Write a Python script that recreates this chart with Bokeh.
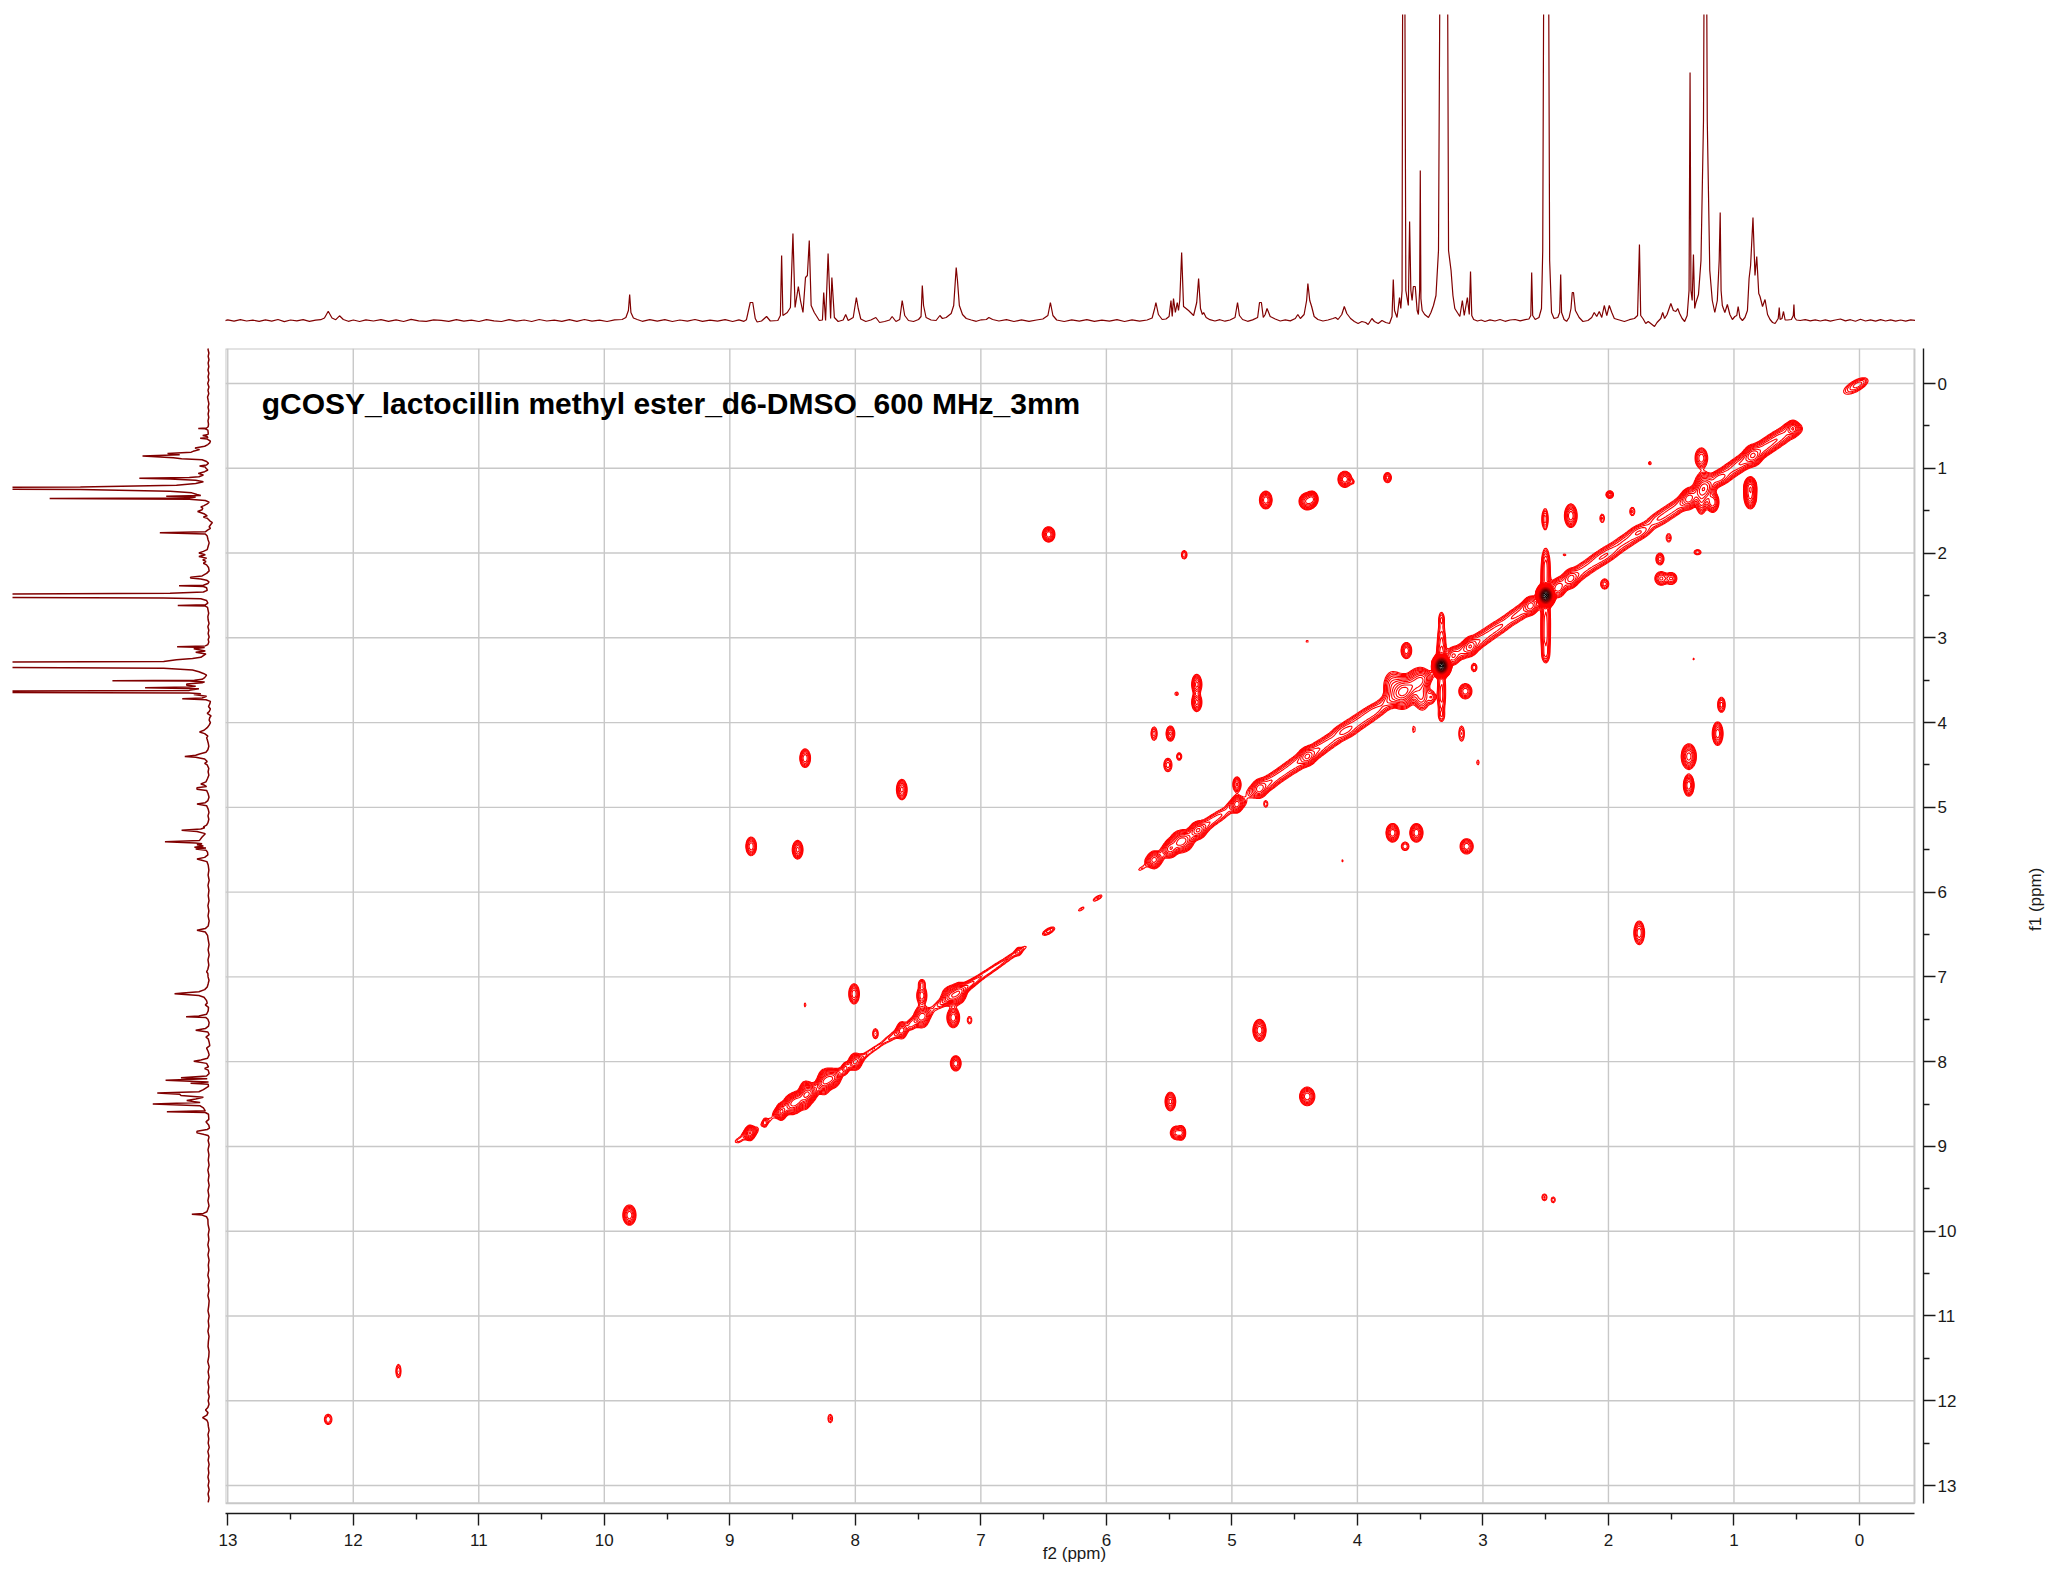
import numpy as np
from bokeh.plotting import figure
from bokeh.layouts import column, row
from bokeh.models import Range1d, FixedTicker, Label, LinearAxis, Spacer
from bokeh.embed import file_html
from bokeh.resources import INLINE

TITLE = "gCOSY_lactocillin methyl ester_d6-DMSO_600 MHz_3mm"
X_TICKS = list(range(0, 14))
Y_TICKS = list(range(0, 14))
X_MINOR = [i + 0.5 for i in range(0, 13)]
Y_MINOR = [i + 0.5 for i in range(0, 13)]

# 1D projection: chemical shift and height above the baseline
spec_ppm = [
 13.20,13.15,13.10,13.05,13.00,12.95,12.90,12.85,12.80,12.75,
 12.70,12.65,12.60,12.55,12.50,12.45,12.40,12.35,12.30,12.26,
 12.23,12.20,12.17,12.14,12.11,12.08,12.04,12.00,11.95,11.90,
 11.84,11.78,11.72,11.66,11.60,11.54,11.48,11.42,11.36,11.30,
 11.24,11.18,11.12,11.06,11.00,10.94,10.88,10.82,10.76,10.70,
 10.64,10.58,10.52,10.46,10.40,10.34,10.28,10.22,10.16,10.10,
 10.04,9.98,9.92,9.86,9.83,9.81,9.80,9.79,9.77,9.74,
 9.70,9.64,9.58,9.52,9.46,9.40,9.34,9.28,9.22,9.16,
 9.10,9.04,8.98,8.93,8.89,8.87,8.86,8.84,8.82,8.80,
 8.785,8.75,8.71,8.68,8.62,8.60,8.59,8.58,8.545,8.52,
 8.50,8.483,8.457,8.44,8.42,8.40,8.385,8.37,8.355,8.33,
 8.29,8.265,8.255,8.24,8.22,8.20,8.19,8.17,8.14,8.10,
 8.08,8.06,8.02,7.995,7.98,7.96,7.92,7.88,7.84,7.81,
 7.77,7.73,7.71,7.68,7.65,7.63,7.61,7.58,7.54,7.50,
 7.48,7.47,7.46,7.44,7.40,7.36,7.33,7.31,7.28,7.24,
 7.22,7.20,7.19,7.175,7.15,7.12,7.08,7.04,7.00,6.96,
 6.94,6.91,6.86,6.80,6.74,6.68,6.62,6.56,6.51,6.47,
 6.45,6.43,6.40,6.34,6.28,6.22,6.16,6.10,6.04,5.98,
 5.92,5.86,5.80,5.74,5.68,5.64,5.62,5.61,5.59,5.56,
 5.53,5.505,5.49,5.48,5.47,5.455,5.44,5.43,5.42,5.405,
 5.39,5.35,5.31,5.285,5.27,5.255,5.24,5.23,5.21,5.18,
 5.14,5.10,5.06,5.02,4.98,4.96,4.945,4.92,4.88,4.84,
 4.80,4.785,4.77,4.755,4.74,4.725,4.70,4.66,4.62,4.58,
 4.54,4.50,4.48,4.46,4.43,4.41,4.40,4.385,4.37,4.35,
 4.32,4.28,4.24,4.20,4.18,4.16,4.13,4.11,4.09,4.06,
 4.03,4.00,3.97,3.94,3.92,3.89,3.87,3.84,3.81,3.78,
 3.75,3.73,3.72,3.71,3.69,3.67,3.66,3.65,3.64,3.63,
 3.62,3.60,3.59,3.58,3.57,3.56,3.545,3.53,3.52,3.51,
 3.505,3.50,3.49,3.47,3.44,3.42,3.40,3.38,3.36,3.33,
 3.30,3.28,3.26,3.245,3.23,3.21,3.19,3.17,3.155,3.13,
 3.115,3.105,3.095,3.08,3.05,3.02,2.99,2.95,2.91,2.87,
 2.83,2.79,2.75,2.71,2.67,2.64,2.625,2.618,2.61,2.59,
 2.56,2.54,2.53,2.52,2.50,2.485,2.475,2.46,2.44,2.41,
 2.395,2.387,2.38,2.36,2.34,2.32,2.305,2.295,2.285,2.27,
 2.24,2.21,2.17,2.14,2.12,2.10,2.08,2.06,2.04,2.02,
 2.00,1.98,1.96,1.92,1.88,1.84,1.80,1.775,1.76,1.75,
 1.73,1.71,1.69,1.67,1.64,1.62,1.59,1.575,1.56,1.54,
 1.51,1.49,1.47,1.455,1.44,1.42,1.40,1.38,1.365,1.357,
 1.35,1.34,1.33,1.32,1.31,1.29,1.27,1.25,1.24,1.23,
 1.22,1.20,1.18,1.16,1.14,1.125,1.117,1.11,1.10,1.08,
 1.06,1.04,1.02,1.00,0.985,0.974,0.96,0.94,0.92,0.90,
 0.887,0.875,0.856,0.84,0.826,0.81,0.80,0.78,0.76,0.74,
 0.72,0.70,0.68,0.655,0.647,0.64,0.625,0.613,0.60,0.58,
 0.55,0.535,0.53,0.525,0.51,0.48,0.44,0.40,0.36,0.32,
 0.28,0.24,0.20,0.16,0.12,0.08,0.04,0.00,-0.04,-0.08,
 -0.12,-0.16,-0.20,-0.24,-0.28,-0.32,-0.36,-0.40,-0.44,-0.50,
]
spec_int = [
 0.5,-0.8,0.7,-1.0,0.6,-0.7,0.9,-0.5,0.4,-0.9,
 0.6,-0.6,1.0,-1.1,0.5,-0.4,0.8,-0.9,0.3,0.8,
 2.5,9.3,2.5,0.8,4.7,1.0,-0.8,0.5,-1.0,0.7,
 -0.5,0.9,-0.9,0.6,-1.0,1.1,-0.4,-0.9,0.7,0.2,
 -0.8,0.9,-0.6,0.4,-1.0,0.8,-0.3,-1.0,0.9,-0.7,
 0.5,-1.0,1.0,-0.5,0.3,-0.9,0.8,-0.8,1.0,-0.6,
 0.4,-1.0,0.7,1.0,3.0,10.0,26.0,8.0,2.5,1.0,
 -0.8,0.9,-0.6,0.8,-1.0,0.5,-0.7,1.0,-0.9,0.4,
 -0.7,0.8,-1.0,0.6,-0.8,0.8,6.6,18.0,18.0,2.0,
 -1.5,-0.5,4.0,-0.5,0.0,5.0,65.0,5.0,8.0,13.0,
 87.0,13.0,34.0,20.0,8.0,43.0,45.0,80.0,15.0,8.0,
 0.0,0.5,28.0,0.0,67.0,2.0,43.0,3.0,-1.0,0.5,
 6.0,0.0,3.0,23.0,12.0,1.5,-1.0,0.5,3.0,-2.0,
 -1.0,0.5,4.0,-1.0,1.0,20.0,5.0,0.0,-1.0,1.0,
 4.0,35.0,15.0,3.0,0.5,0.0,5.0,2.0,3.0,7.0,
 15.0,53.0,40.0,15.0,6.0,2.0,0.5,-0.8,0.7,1.0,
 3.0,1.0,-0.5,0.8,-1.0,0.6,-0.9,0.5,1.5,5.0,
 18.0,5.0,0.5,-1.0,0.7,-0.6,0.9,-0.8,0.4,-0.7,
 0.8,-1.0,0.6,-0.6,0.5,2.5,12.0,18.0,6.0,1.0,
 1.5,4.0,20.0,4.0,22.0,8.0,18.0,10.0,20.0,68.0,
 14.0,10.0,5.0,18.0,42.0,12.0,6.0,8.0,3.0,0.8,
 -0.5,0.8,-0.7,0.5,3.0,18.0,5.0,1.0,-0.8,0.6,
 3.0,18.0,18.0,3.0,6.0,12.0,4.0,1.5,-0.5,0.6,
 -0.4,2.0,6.0,2.0,6.0,20.0,37.0,20.0,14.0,4.0,
 1.0,-0.5,0.5,2.0,3.0,1.0,6.0,14.0,7.0,2.0,
 -1.0,-3.0,-1.0,-2.0,-4.0,2.0,-1.0,-3.0,0.0,-2.0,
 -3.0,4.0,41.0,10.0,3.0,23.0,12.0,30.0,700.0,420.0,
 30.0,15.0,99.0,30.0,20.0,34.0,34.0,10.0,6.0,30.0,
 150.0,22.0,10.0,6.0,3.0,8.0,15.0,25.0,70.0,800.0,
 800.0,70.0,50.0,25.0,12.0,8.0,4.0,20.0,5.0,23.0,
 6.0,49.0,5.0,1.0,-0.5,0.5,-1.0,0.6,-0.5,1.0,
 -0.8,0.5,1.0,-0.3,0.8,1.5,5.0,48.0,5.0,1.0,
 3.0,12.0,70.0,420.0,800.0,420.0,60.0,8.0,2.0,3.0,
 8.0,46.0,8.0,1.0,-0.8,3.0,12.0,28.0,28.0,10.0,
 3.0,-1.0,0.0,3.0,8.0,4.0,9.0,3.0,15.0,5.0,
 15.0,8.0,2.0,0.5,-1.0,0.8,2.0,5.0,76.0,5.0,
 1.5,-3.0,-1.0,-3.0,-6.0,-2.0,2.0,8.0,2.0,6.0,
 17.0,10.0,9.0,12.0,7.0,2.0,-1.0,5.0,30.0,248.0,
 30.0,20.0,66.0,12.0,18.0,26.0,60.0,200.0,500.0,500.0,
 200.0,50.0,20.0,8.0,20.0,60.0,108.0,30.0,15.0,8.0,
 16.0,6.0,1.0,4.0,5.0,14.0,3.0,0.0,3.0,10.0,
 42.0,55.0,103.0,45.0,64.0,27.0,24.0,14.0,21.0,6.0,
 1.0,-2.0,-3.0,2.0,13.0,1.0,2.0,9.0,0.5,0.5,
 1.0,5.0,16.0,3.0,0.5,0.0,0.8,-0.4,0.6,-0.5,
 0.7,-0.6,0.5,1.5,-0.4,0.8,-0.7,1.2,-0.5,0.7,
 -0.6,0.8,-0.5,0.6,-0.7,0.5,-0.6,0.7,0.0,0.0,
]

# correlation peaks: f2, f1, half-extent in each direction, relative height
peak_f2 = [4.10,4.40,4.36,4.73,3.76,4.04,1.67,1.26,1.26,0.87,0.87,2.30,2.51,1.99,2.05,1.81,1.52,1.59,1.29,1.58,1.50,2.03,2.35,
           6.46,5.38,4.40,3.61,3.07,3.14,3.41,5.28,5.28,5.44,5.62,5.49,5.42,5.51,3.55,3.17,3.04,1.10,1.13,1.36,1.36,1.32,
           4.96,4.73,3.72,3.53,3.62,3.13,4.12,7.63,8.40,8.83,8.46,1.755,
           7.47,7.47,8.01,8.40,7.09,7.22,7.84,7.20,4.78,5.49,4.40,5.44,5.40,9.80,12.20,11.64,8.20,2.51,2.44,
           3.72,3.62,3.56,3.50,3.48,1.17,3.24,2.40,
           8.84,8.72,8.59,8.50,8.46,8.40,8.37,8.25,8.20,8.08,8.00,7.63,7.55,7.47,7.22,7.17,6.70,
           0.53,0.85,1.24,1.36,2.62,2.30,3.10,3.64,3.50,4.40,4.78,4.96,5.27,5.40,5.49,5.62]
peak_f1 = [1.13,1.39,1.36,1.375,1.11,1.16,0.94,0.88,1.40,1.22,1.33,1.56,1.60,1.31,1.59,1.51,1.82,2.07,1.99,2.30,2.30,2.365,2.02,
           1.78,2.02,3.04,3.15,3.35,3.63,3.70,3.55,3.76,3.66,4.13,4.13,4.40,4.50,4.08,4.13,4.47,3.79,4.13,4.40,4.74,3.25,
           4.73,4.96,5.30,5.30,5.46,5.46,5.63,4.79,4.42,5.46,5.50,6.48,
           7.08,7.22,7.20,7.33,7.51,7.48,7.67,8.02,7.63,8.47,8.41,8.84,8.84,9.81,12.22,11.65,12.21,9.60,9.63,
           3.58,3.62,3.55,3.68,3.70,1.40,3.22,2.42,
           8.84,8.72,8.59,8.50,8.46,8.40,8.37,8.25,8.20,8.08,8.00,7.63,7.56,7.47,7.22,7.17,6.70,
           0.53,0.85,1.24,1.36,2.62,2.30,3.10,3.64,3.50,4.40,4.78,4.96,5.27,5.40,5.49,5.62]
peak_rx = [.055,.065,.045,.05,.03,.012,.012,.05,.04,.05,.05,.05,.018,.03,.018,.02,.02,.032,.028,.05,.045,.032,.012,
           .05,.022,.01,.042,.022,.052,.03,.04,.04,.014,.024,.034,.02,.032,.01,.022,.01,.03,.042,.06,.042,.008,
           .032,.016,.052,.052,.03,.052,.008,.042,.042,.042,.042,.042,
           .025,.04,.042,.008,.018,.05,.022,.042,.052,.042,.06,.05,.03,.052,.03,.02,.018,.02,.016,
           .07,.09,.05,.05,.05,.05,.05,.05,
           .04,.015,.04,.07,.05,.05,.06,.05,.08,.02,.05,.04,.03,.06,.09,.05,.02,
           .04,.07,.08,.06,.05,.05,.05,.09,.07,.06,.05,.04,.06,.09,.05,.05]
peak_ry = [.095,.10,.09,.105,.06,.02,.02,.12,.14,.12,.15,.14,.09,.045,.05,.05,.05,.07,.03,.08,.07,.06,.012,
           .09,.05,.012,.095,.05,.09,.07,.12,.11,.022,.08,.09,.045,.08,.04,.09,.03,.09,.14,.15,.13,.012,
           .09,.04,.11,.11,.05,.09,.012,.12,.11,.11,.11,.14,
           .05,.11,.12,.025,.045,.12,.06,.09,.13,.11,.11,.08,.08,.12,.06,.08,.05,.04,.035,
           .18,.14,.14,.12,.14,.12,.10,.10,
           .09,.05,.10,.12,.10,.16,.12,.14,.12,.06,.10,.10,.05,.13,.12,.10,.04,
           .09,.12,.20,.12,.10,.10,.10,.20,.15,.10,.10,.10,.10,.13,.10,.10]
peak_amp = [8,12,10,8,4,1.6,1.6,6,6,12,12,8,2.5,4,2,2,2,4,2.5,5,5,3,1.5,
            8,2.5,1.4,6,2.5,6,3,7,7,1.6,3,5,2.5,3,1.5,2.5,1.5,4,8,10,8,1.3,
            5,1.8,8,8,2.5,6,1.3,7,6,6,7,6,
            2.5,6,6,1.3,1.8,8,2.5,6,8,7,8,7,5,8,2.5,2.5,2,2,1.8,
            5,5,4,4,3,8,5,5,
            8,2,8,9,6,8,9,6,10,3,6,5,2,7,10,6,2,
            6,10,14,8,6,5,6,12,7,7,6,6,7,9,6,6]

# the two solvent lines and the stripes that run through them
stripe_f2 = [2.50,2.50,2.50,2.50,2.50,2.50,2.50,3.33,3.33,3.33,3.33,3.33,3.33,3.33]
stripe_f1 = [1.60,2.10,2.30,2.50,2.80,3.05,3.20,2.78,3.00,3.20,3.33,3.55,3.75,3.92]
stripe_rx = [.016,.022,.038,.08,.038,.03,.025,.02,.03,.038,.08,.03,.025,.02]
stripe_ry = [.10,.12,.30,.15,.32,.16,.08,.08,.16,.16,.15,.20,.14,.06]
stripe_amp = [2,2.5,5,2500,5,3,2.5,2.5,3,5,2500,3,2.5,2]

# ridge along the diagonal: shift, half-length, half-width, relative height
diag_ppm = [0.00,0.06,0.53,0.60,0.68,0.76,0.85,0.95,1.05,1.12,1.24,1.36,1.48,1.60,1.75,1.86,1.99,2.08,2.20,2.30,2.39,2.62,2.74,
            2.88,3.00,3.10,3.17,3.50,3.58,3.64,3.72,3.85,3.95,4.05,4.11,4.22,4.32,4.40,4.50,4.60,4.70,4.78,4.96,5.08,5.18,5.27,
            5.40,5.49,5.62,5.72,6.07,6.20,6.46,
            6.70,6.85,7.00,7.10,7.20,7.30,7.47,7.63,7.72,7.84,7.93,8.00,8.08,8.20,8.25,8.37,8.41,8.46,8.50,8.59,8.71,8.84,8.93]
diag_len = [.05,.05,.04,.08,.08,.08,.10,.08,.08,.06,.10,.08,.08,.08,.07,.08,.08,.08,.08,.07,.06,.08,.08,
            .08,.08,.08,.06,.08,.06,.06,.07,.08,.08,.08,.06,.07,.07,.08,.07,.07,.07,.08,.05,.07,.07,.07,
            .08,.06,.05,.02,.03,.02,.04,
            .05,.08,.08,.06,.09,.07,.06,.05,.05,.03,.04,.05,.04,.08,.05,.07,.05,.05,.07,.05,.03,.05,.02]
diag_wid = [.045,.045,.07,.07,.07,.07,.075,.07,.07,.07,.075,.07,.065,.065,.07,.065,.065,.065,.065,.07,.065,.07,.065,
            .065,.065,.07,.065,.07,.07,.07,.07,.065,.065,.065,.065,.065,.065,.07,.065,.06,.06,.07,.06,.04,.04,.06,
            .07,.06,.06,.012,.018,.012,.028,
            .016,.022,.025,.035,.05,.035,.05,.035,.025,.012,.018,.04,.03,.06,.05,.06,.05,.05,.06,.05,.018,.045,.02]
diag_amp = [3,2,4,3.5,3.5,4,5,4,3.5,5,6,5,3,3,4,3,3,3,3,4,3,4,3,
            3,3,4,3,5,4,6,4,3,2.5,2.5,3,3,3,4,3,3,3,4,4,1.8,2,4,
            5,4,4,1.4,2,1.5,3,
            1.6,1.7,1.8,2.5,5,2,4,2.2,1.7,1.4,1.5,3,2,6,4,6,4,4,5,4,1.6,4,1.5]

contour_levels = [1,1.35,1.8,2.45,3.3,4.5,6,8.2,11,15,20,27,36,49,66,
                  89,120,162,218,295,398,537,725,980,1320,1780,2250]
contour_colors = ["#ff0000"]*15 + ["#f00000","#e00000","#d00000","#c00000","#a80000","#900000",
                                   "#780000","#600000","#480000","#300000","#180000","#000000"]

GRID_COLOR = "#c8c8c8"
INK = "#1a1a1a"
SPEC = "#800000"
FONT = "Liberation Sans"

# frame limits of the main panel
X_LEFT, X_FRAME_RIGHT, X_AXIS = 13.018, -0.438, -0.51
Y_TOP, Y_FRAME_BOTTOM, Y_AXIS = -0.413, 13.21, 13.33

# contour field
f2 = np.arange(-0.25, 13.0, 0.012)
f1 = np.arange(-0.25, 13.1, 0.016)
z = np.zeros((f1.size, f2.size))


def add(cx, cy, su, sv, amp, rotate):
    reach = 4.2 * max(su, sv)
    i0, i1 = np.searchsorted(f2, [cx - reach, cx + reach])
    j0, j1 = np.searchsorted(f1, [cy - reach, cy + reach])
    xx, yy = np.meshgrid(f2[i0:i1] - cx, f1[j0:j1] - cy)
    if rotate:
        u, v = (xx + yy) / np.sqrt(2), (xx - yy) / np.sqrt(2)
    else:
        u, v = xx, yy
    z[j0:j1, i0:i1] += amp * np.exp(-0.5 * ((u / su) ** 2 + (v / sv) ** 2))


for a, b, rx, ry, amp in zip(peak_f2 + stripe_f2, peak_f1 + stripe_f1, peak_rx + stripe_rx,
                             peak_ry + stripe_ry, peak_amp + stripe_amp):
    k = np.sqrt(2 * np.log(amp))
    add(a, b, rx / k, ry / k, amp, False)
for a, ln, wd, amp in zip(diag_ppm, diag_len, diag_wid, diag_amp):
    k = np.sqrt(2 * np.log(amp))
    add(a, a, ln / k * 1.6, wd / k, amp, True)

# main panel: its frame runs out to the offset axes, the grey box is drawn inside it
p = figure(width=1839, height=1230, output_backend="svg", toolbar_location=None,
           x_range=Range1d(X_LEFT, X_AXIS), y_range=Range1d(Y_AXIS, Y_TOP),
           x_axis_location=None, y_axis_location=None,
           min_border_left=7, min_border_right=133, min_border_top=10, min_border_bottom=55)
p.grid.visible = False
p.outline_line_color = None

p.segment(x0=X_TICKS, x1=X_TICKS, y0=[Y_TOP] * 14, y1=[Y_FRAME_BOTTOM] * 14,
          line_color=GRID_COLOR, line_width=1.4)
p.segment(x0=[X_LEFT] * 14, x1=[X_FRAME_RIGHT] * 14, y0=Y_TICKS, y1=Y_TICKS,
          line_color=GRID_COLOR, line_width=1.4)
p.quad(left=[X_LEFT], right=[X_FRAME_RIGHT], top=[Y_TOP], bottom=[Y_FRAME_BOTTOM],
       fill_color=None, line_color=GRID_COLOR, line_width=2)

p.contour(f2, f1, z, contour_levels, line_color=contour_colors, line_width=1.1)

xax = LinearAxis(ticker=FixedTicker(ticks=X_TICKS, minor_ticks=X_MINOR), bounds=(X_FRAME_RIGHT, X_LEFT),
                 axis_label="f2 (ppm)", axis_label_standoff=-5)
yax = LinearAxis(ticker=FixedTicker(ticks=Y_TICKS, minor_ticks=Y_MINOR), bounds=(Y_TOP, Y_FRAME_BOTTOM),
                 axis_label="f1 (ppm)", axis_label_standoff=76)
for ax, standoff in ((xax, 8), (yax, 2)):
    ax.major_tick_in = 0
    ax.major_tick_out = 12
    ax.minor_tick_in = 0
    ax.minor_tick_out = 6
    ax.axis_line_color = INK
    ax.major_tick_line_color = INK
    ax.minor_tick_line_color = INK
    ax.axis_line_width = 1.4
    ax.major_tick_line_width = 1.4
    ax.minor_tick_line_width = 1.4
    ax.major_label_text_font = FONT
    ax.major_label_text_font_size = "17px"
    ax.major_label_text_color = INK
    ax.major_label_standoff = standoff
    ax.axis_label_text_font = FONT
    ax.axis_label_text_font_size = "17px"
    ax.axis_label_text_font_style = "normal"
    ax.axis_label_text_color = INK
yax.major_label_orientation = "horizontal"
yax.axis_label_orientation = np.pi / 2
p.add_layout(xax, "below")
p.add_layout(yax, "right")

p.add_layout(Label(x=12.73, y=0.24, text=TITLE, text_font=FONT, text_font_style="bold",
                   text_font_size="30px", text_color="#000000", text_baseline="middle"))

# horizontal projection above the panel
top = figure(width=1690, height=338, output_backend="svg", toolbar_location=None,
             x_range=Range1d(X_LEFT, X_FRAME_RIGHT), y_range=Range1d(-18, 306),
             x_axis_type=None, y_axis_type=None,
             min_border_left=0, min_border_right=0, min_border_top=14, min_border_bottom=0)
top.grid.visible = False
top.outline_line_color = None
top.line(spec_ppm, spec_int, line_color=SPEC, line_width=1.2)

# vertical projection left of the panel
left = figure(width=218, height=1230, output_backend="svg", toolbar_location=None,
              x_range=Range1d(306, -15.6), y_range=Range1d(Y_AXIS, Y_TOP),
              x_axis_type=None, y_axis_type=None,
              min_border_left=12, min_border_right=0, min_border_top=10, min_border_bottom=55)
left.grid.visible = False
left.outline_line_color = None
left.line(spec_int, spec_ppm, line_color=SPEC, line_width=1.5)

page = column(row(Spacer(width=225, height=338), top, spacing=0),
              row(left, p, spacing=0), spacing=0)
open("out.html", "w").write(file_html(page, INLINE))
